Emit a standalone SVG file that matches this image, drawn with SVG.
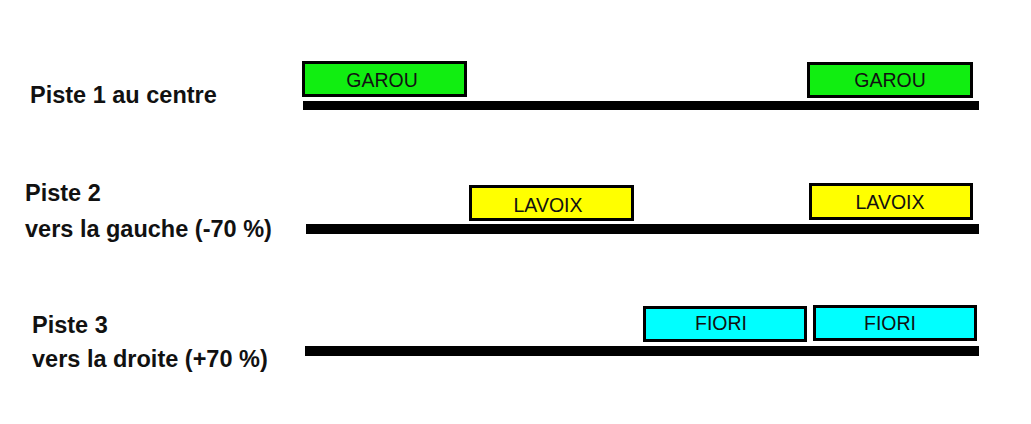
<svg xmlns="http://www.w3.org/2000/svg" width="1031" height="424" viewBox="0 0 1031 424">
<style>
.lbl{font-family:"Liberation Sans",Arial,sans-serif;font-weight:bold;font-size:23.5px;fill:#111}
.box{stroke:#000;stroke-width:3}
.bt{font-family:"Liberation Sans",Arial,sans-serif;font-size:19.5px;fill:#111;text-anchor:middle}
.g{fill:#11ee11}.y{fill:#ffff00}.c{fill:#00ffff}
.bar{fill:#000}
</style>
<rect width="1031" height="424" fill="#fff"/>
<g id="labels">
<text class="lbl" x="30" y="103">Piste 1 au centre</text>
<text class="lbl" x="25" y="201">Piste 2</text>
<text class="lbl" x="25" y="237">vers la gauche (-70 %)</text>
<text class="lbl" x="32" y="333">Piste 3</text>
<text class="lbl" x="32" y="367">vers la droite (+70 %)</text>
</g>
<g id="tracks">
<rect class="bar" x="303" y="101" width="676" height="9"/>
<rect class="bar" x="306" y="224" width="673" height="10"/>
<rect class="bar" x="305" y="346" width="674" height="10"/>
</g>
<g id="garou1"><rect class="box g" x="303.5" y="62.5" width="162" height="33"/><text class="bt" x="382" y="87">GAROU</text></g>
<g id="garou2"><rect class="box g" x="808.5" y="63.5" width="163" height="33"/><text class="bt" x="890" y="87">GAROU</text></g>
<g id="lavoix1"><rect class="box y" x="470.5" y="186.5" width="162" height="33"/><text class="bt" x="548" y="212">LAVOIX</text></g>
<g id="lavoix2"><rect class="box y" x="810.5" y="184.5" width="161" height="34"/><text class="bt" x="890" y="209">LAVOIX</text></g>
<g id="fiori1"><rect class="box c" x="644.5" y="307.5" width="161" height="33"/><text class="bt" x="721" y="330">FIORI</text></g>
<g id="fiori2"><rect class="box c" x="814.5" y="306.5" width="161" height="33"/><text class="bt" x="890" y="330">FIORI</text></g>
</svg>
